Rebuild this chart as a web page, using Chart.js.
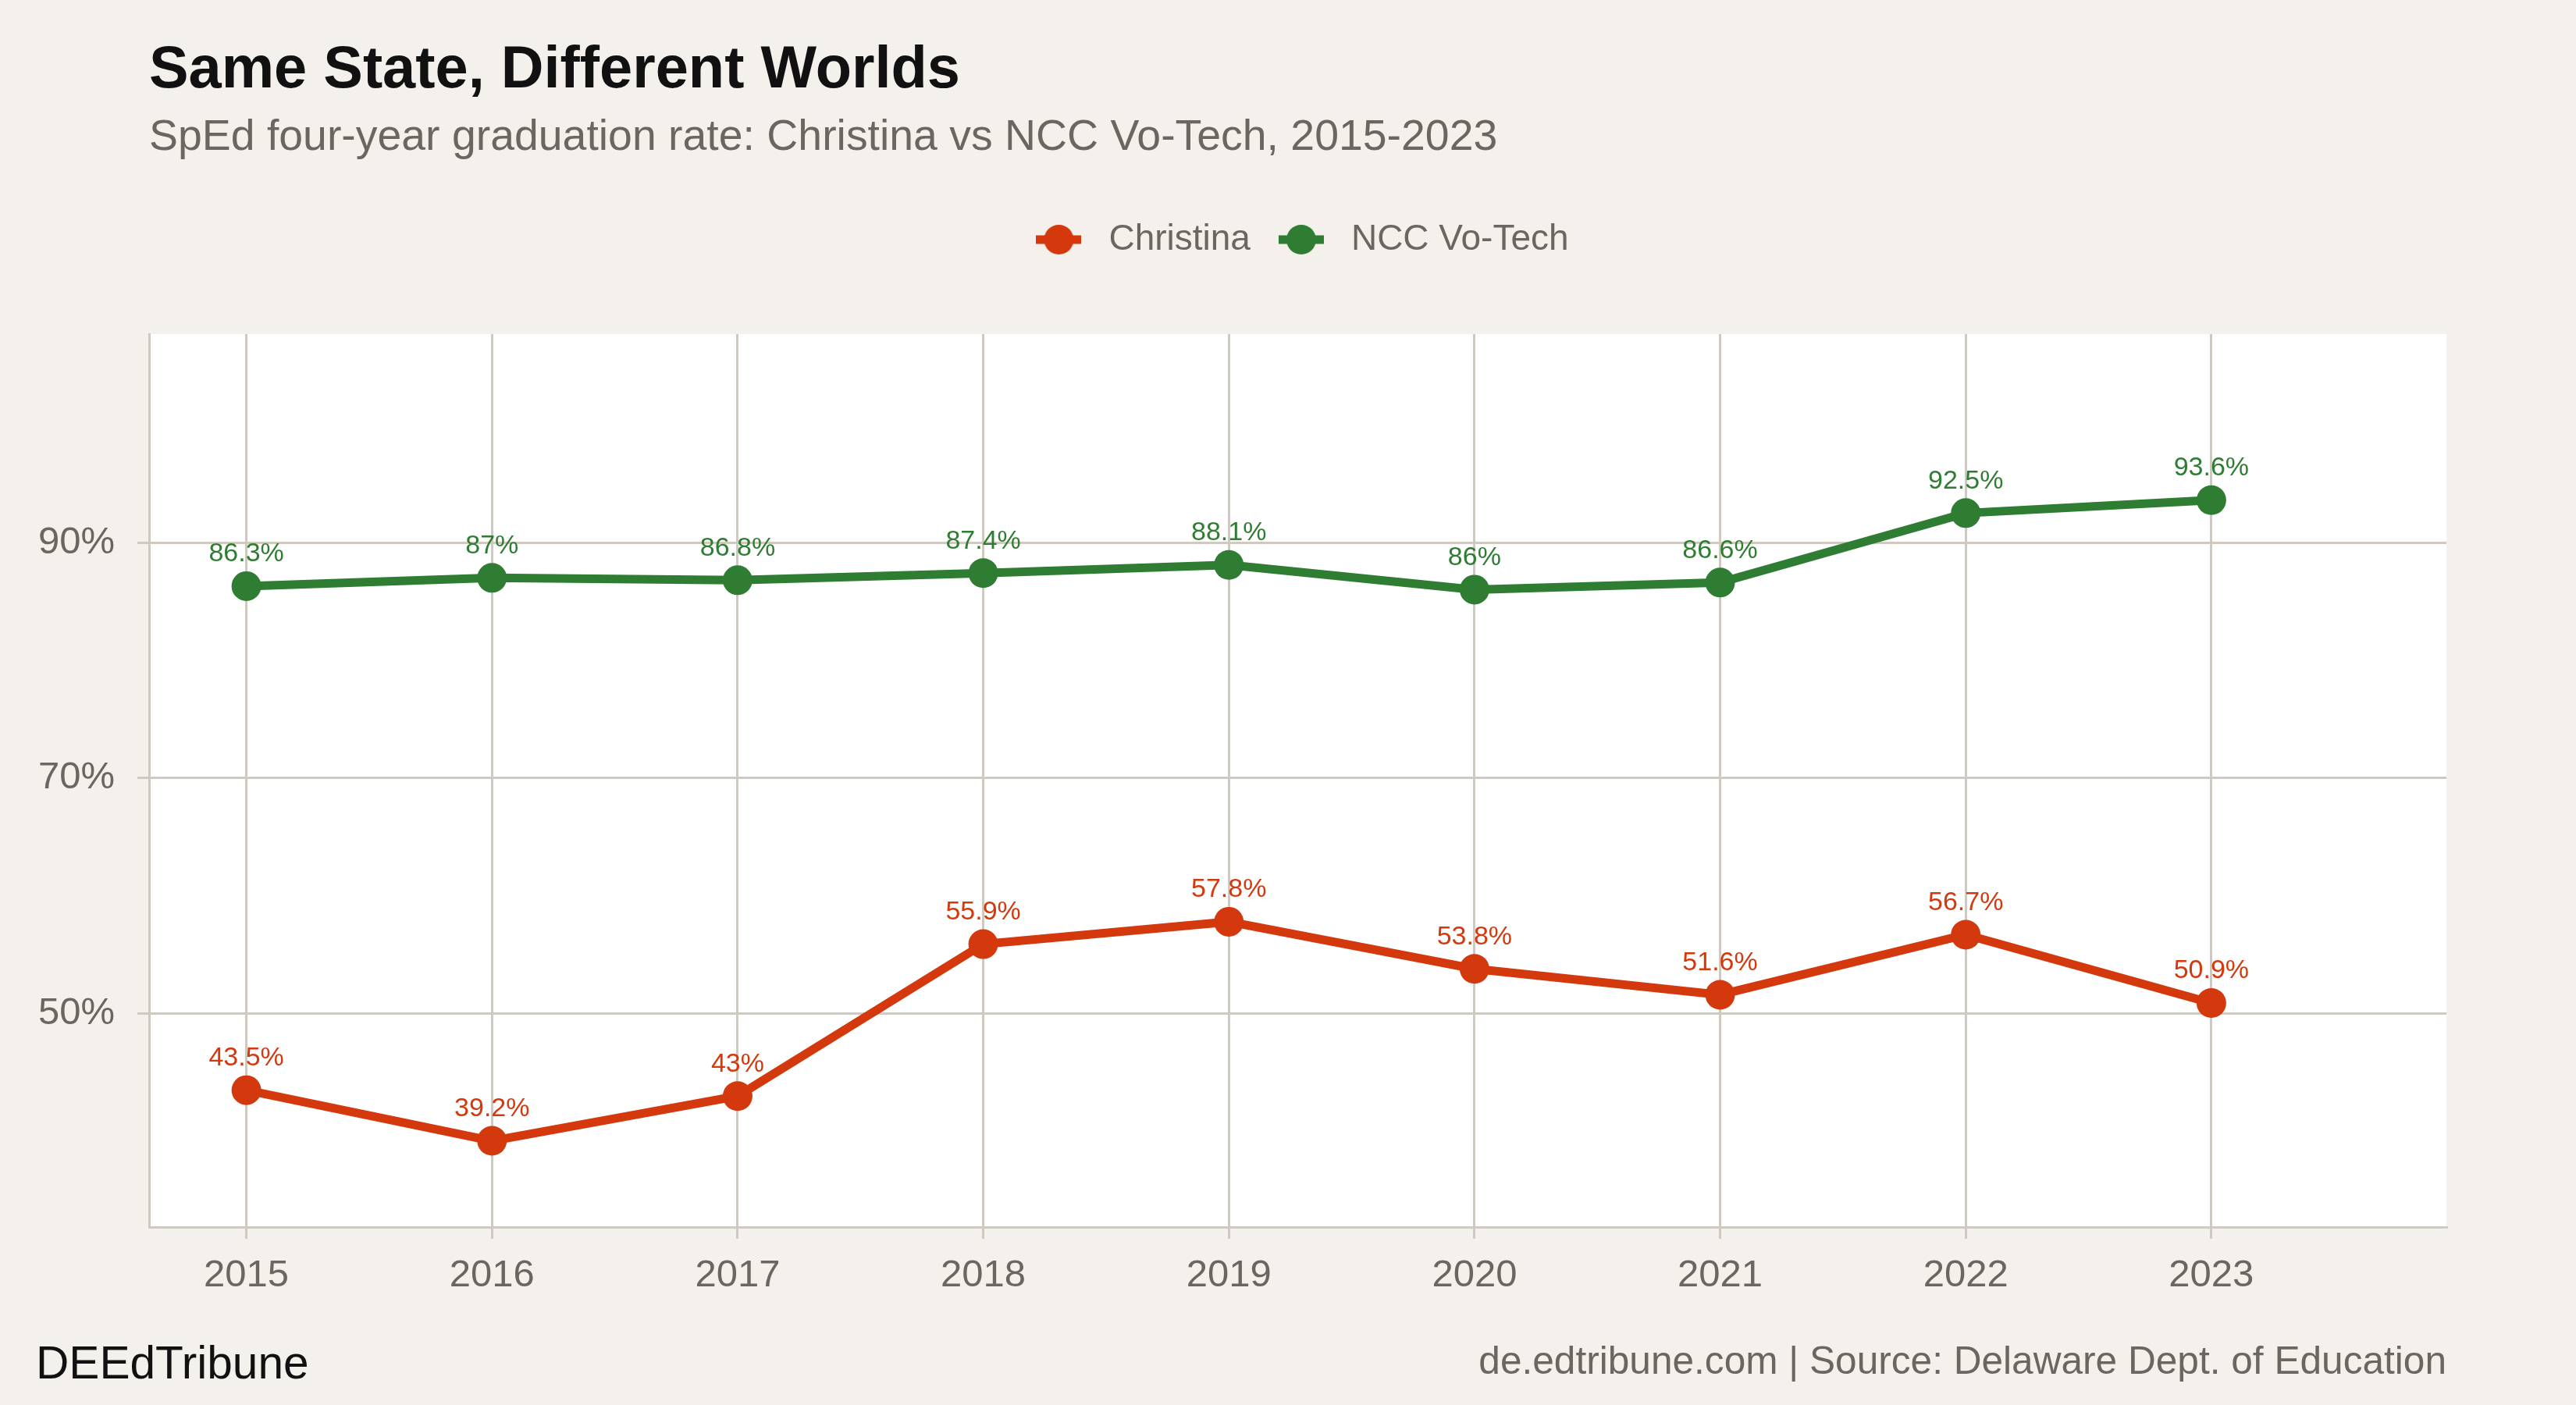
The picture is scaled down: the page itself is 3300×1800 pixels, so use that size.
<!DOCTYPE html>
<html>
<head>
<meta charset="utf-8">
<script src="https://cdn.jsdelivr.net/npm/chart.js@4.4.1/dist/chart.umd.min.js"></script>
<style>
html,body{margin:0;padding:0;background:#f4f1ec;}
body{width:3300px;height:1800px;position:relative;overflow:hidden;font-family:"Liberation Sans",Arial,Helvetica,sans-serif;}
#wrap{position:absolute;left:0;top:0;width:3300px;height:1800px;}
.t{position:absolute;line-height:1;white-space:nowrap;}
#title{left:191px;top:48px;font-size:75.8px;font-weight:bold;color:#111111;}
#subtitle{left:191px;top:146px;font-size:55.4px;color:#6b665f;}
#brand{left:46px;top:1717px;font-size:58.6px;color:#111111;}
#source{right:166px;top:1719px;font-size:49.6px;color:#6b665f;}
</style>
</head>
<body>
<div id="wrap"><canvas id="c" width="3300" height="1800"></canvas></div>
<div class="t" id="title">Same State, Different Worlds</div>
<div class="t" id="subtitle">SpEd four-year graduation rate: Christina vs NCC Vo-Tech, 2015-2023</div>
<div class="t" id="brand">DEEdTribune</div>
<div class="t" id="source">de.edtribune.com | Source: Delaware Dept. of Education</div>
<script>
// ---- Data ----
const years = [2015, 2016, 2017, 2018, 2019, 2020, 2021, 2022, 2023];
const christina = [43.5, 39.2, 43, 55.9, 57.8, 53.8, 51.6, 56.7, 50.9];
const nccVoTech = [86.3, 87, 86.8, 87.4, 88.1, 86, 86.6, 92.5, 93.6];
const seriesNames = ["Christina", "NCC Vo-Tech"];
const yTickValues = [50, 70, 90];

// ---- Style ----
const RED = "#d4380d";
const GREEN = "#2e7d32";
const GRID = "#d0c9bf";
const TEXT = "#6b665f";
const FONT = "'Liberation Sans', Arial, Helvetica, sans-serif";

function legendIcon(color) {
  const cv = document.createElement("canvas");
  cv.width = 58; cv.height = 38;
  const g = cv.getContext("2d");
  g.fillStyle = color;
  g.fillRect(0, 13.5, 58, 11);
  g.beginPath();
  g.arc(29, 19, 19, 0, Math.PI * 2);
  g.fill();
  return cv;
}
const icons = [legendIcon(RED), legendIcon(GREEN)];

const plotBg = {
  id: "plotBg",
  beforeDraw(chart) {
    const a = chart.chartArea, ctx = chart.ctx;
    ctx.save();
    ctx.fillStyle = "#ffffff";
    ctx.fillRect(a.left, a.top, a.right - a.left, a.bottom - a.top);
    ctx.restore();
  }
};

const valueLabels = {
  id: "valueLabels",
  afterDatasetsDraw(chart) {
    const ctx = chart.ctx;
    ctx.save();
    ctx.font = "34px " + FONT;
    ctx.textAlign = "center";
    ctx.textBaseline = "middle";
    chart.data.datasets.forEach((ds, i) => {
      const meta = chart.getDatasetMeta(i);
      ctx.fillStyle = ds.borderColor;
      meta.data.forEach((pt, j) => {
        ctx.fillText(String(ds.data[j].y) + "%", pt.x, pt.y - 41);
      });
    });
    ctx.restore();
  }
};

const toPoints = arr => years.map((yr, i) => ({ x: yr, y: arr[i] }));

new Chart(document.getElementById("c"), {
  type: "line",
  data: {
    datasets: [
      {
        label: seriesNames[0],
        data: toPoints(christina),
        borderColor: RED,
        backgroundColor: RED,
        borderWidth: 11,
        pointRadius: 19,
        pointBorderWidth: 0,
        pointBackgroundColor: RED,
        tension: 0
      },
      {
        label: seriesNames[1],
        data: toPoints(nccVoTech),
        borderColor: GREEN,
        backgroundColor: GREEN,
        borderWidth: 11,
        pointRadius: 19,
        pointBorderWidth: 0,
        pointBackgroundColor: GREEN,
        tension: 0
      }
    ]
  },
  options: {
    responsive: false,
    animation: false,
    devicePixelRatio: 1,
    events: [],
    layout: { padding: { top: 260, right: 166, bottom: 0, left: 0 } },
    plugins: {
      tooltip: { enabled: false },
      title: { display: false },
      subtitle: {
        display: true,
        text: "",
        position: "top",
        weight: 500,
        fullSize: false,
        padding: { top: 87, bottom: 0 },
        font: { size: 1, lineHeight: 1 }
      },
      legend: {
        display: true,
        position: "top",
        align: "center",
        fullSize: false,
        labels: {
          usePointStyle: true,
          pointStyleWidth: 82,
          padding: 24,
          color: TEXT,
          font: { family: FONT, size: 46 },
          generateLabels(chart) {
            const items = Chart.defaults.plugins.legend.labels.generateLabels(chart);
            items.forEach((it, i) => {
              it.pointStyle = icons[i];
              it.fontColor = TEXT;
            });
            return items;
          }
        }
      }
    },
    scales: {
      x: {
        type: "linear",
        min: 2014.604,
        max: 2023.957,
        afterBuildTicks(s) { s.ticks = years.map(v => ({ value: v })); },
        afterFit(s) { s.height = 228; },
        ticks: {
          color: TEXT,
          font: { family: FONT, size: 49 },
          padding: 18,
          maxRotation: 0,
          autoSkip: false,
          callback: v => String(v)
        },
        grid: { color: GRID, lineWidth: 3, tickLength: 15, drawTicks: true },
        border: { display: true, color: GRID, width: 3 }
      },
      y: {
        type: "linear",
        min: 31.88,
        max: 107.7,
        afterBuildTicks(s) { s.ticks = yTickValues.map(v => ({ value: v })); },
        afterFit(s) { s.width = 191; },
        ticks: {
          color: TEXT,
          font: { family: FONT, size: 49 },
          padding: 29,
          callback: v => v + "%"
        },
        grid: { color: GRID, lineWidth: 3, tickLength: 15, drawTicks: true },
        border: { display: true, color: GRID, width: 3 }
      }
    }
  },
  plugins: [plotBg, valueLabels]
});
</script>
</body>
</html>
